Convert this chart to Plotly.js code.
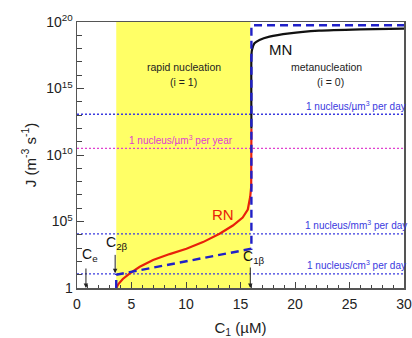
<!DOCTYPE html>
<html>
<head>
<meta charset="utf-8">
<script src="https://cdn.plot.ly/plotly-3.0.1.min.js"></script>
<style>
  html, body { margin: 0; padding: 0; background: #fff; }
  #chart { width: 412px; height: 338px; }
</style>
</head>
<body>
<div id="chart"></div>
<script>
// Rapid nucleation (RN) branch: monomer concentration C1 (µM) vs log10 J
const rnC      = [3.6, 3.8, 4.2, 4.85, 5.76, 6.98, 8.5, 10.04, 11.56, 13.08, 14.3, 15.2, 15.67, 15.89, 15.98, 16.0];
const rnLog10J = [0.0, 0.3, 0.68, 1.1, 1.6, 2.1, 2.55, 2.95, 3.45, 4.08, 4.7, 5.3, 5.9, 6.86, 7.6, 12.0];

// Metanucleation (MN) branch
const mnC      = [16.0, 16.0, 16.05, 16.28, 16.74, 17.66, 19.49, 22.2, 26.0, 30.0];
const mnLog10J = [12.0, 17.4, 17.9, 18.4, 18.65, 18.9, 19.15, 19.35, 19.45, 19.5];

// Simplified (dashed) approximation
const approxC      = [3.6, 3.6, 16.0, 16.0, 30.0];
const approxLog10J = [0.0, 1.0, 2.95, 19.75, 19.75];

// Reference rates (m^-3 s^-1)
const refRates  = [1e18 / 86400, 1e18 / 3.156e7, 1e9 / 86400, 1e6 / 86400];
const refLabels = ['1 nucleus/µm<sup>3</sup> per day', '1 nucleus/µm<sup>3</sup> per year',
                   '1 nucleus/mm<sup>3</sup> per day', '1 nucleus/cm<sup>3</sup> per day'];
const refColors = ['#3a3ae0', '#e040d0', '#3a3ae0', '#3a3ae0'];
const refLabelX = [25.6, 9.5, 25.6, 25.6];

// Characteristic concentrations
const cE = 0.82, c2b = 3.5, c1b = 15.9;
const rapidRange = [3.6, 15.9];

const yTickVals = [1, 1e5, 1e10, 1e15, 1e20];
const yTickText = ['1', '10<sup>5</sup>', '10<sup>10</sup>', '10<sup>15</sup>', '10<sup>20</sup>'];
const xTickVals = [0, 5, 10, 15, 20, 25, 30];

const pow10 = a => a.map(v => Math.pow(10, v));
const decades = [];
for (let k = 0; k <= 20; k++) decades.push(Math.pow(10, k));

const traces = [];
refRates.forEach((r, i) => {
  traces.push({
    x: [0, 30], y: [r, r], mode: 'lines', hoverinfo: 'skip', showlegend: false,
    line: { color: refColors[i], width: 1.3, dash: '2px,2px' }
  });
});
traces.push({
  x: rnC, y: pow10(rnLog10J), mode: 'lines', showlegend: false,
  line: { color: '#e8200a', width: 2.2 }
});
traces.push({
  x: mnC, y: pow10(mnLog10J), mode: 'lines', showlegend: false,
  line: { color: '#111', width: 2.2, shape: 'spline', smoothing: 0.5 }
});
traces.push({
  x: approxC, y: pow10(approxLog10J), mode: 'lines', showlegend: false,
  line: { color: '#2020c8', width: 2.4, dash: '8px,5px' }
});

const txt = (x, y, text, size, color, extra) => Object.assign({
  x, y, text, showarrow: false, xref: 'x', yref: 'y',
  font: { family: 'Arial, Liberation Sans, sans-serif', size, color }
}, extra || {});

const annotations = [
  txt(9.8, 16.6, 'rapid nucleation', 10.5, '#222'),
  txt(9.8, 15.5, '(i = 1)', 10.5, '#222'),
  txt(22.9, 16.6, 'metanucleation', 10.5, '#222'),
  txt(23.3, 15.5, '(i = 0)', 10.5, '#222'),
  txt(18.7, 17.97, 'MN', 15, '#111'),
  txt(13.4, 5.5, 'RN', 15, '#e8200a'),
  txt(1.2, 2.5, 'C<sub>e</sub>', 14, '#111'),
  txt(3.7, 3.4, 'C<sub>2β</sub>', 14, '#111'),
  txt(16.2, 2.35, 'C<sub>1β</sub>', 14, '#111'),
  // arrows pointing at the characteristic concentrations
  { x: cE, y: 0, ax: 0, ay: -21, text: '', showarrow: true, arrowhead: 2, arrowsize: 0.9,
    arrowwidth: 1, arrowcolor: '#222', xref: 'x', yref: 'y' },
  { x: c2b, y: 1.1, ax: 0, ay: -20, text: '', showarrow: true, arrowhead: 2, arrowsize: 0.9,
    arrowwidth: 1, arrowcolor: '#222', xref: 'x', yref: 'y' },
  { x: c1b, y: 0, ax: 0, ay: -22, text: '', showarrow: true, arrowhead: 2, arrowsize: 0.9,
    arrowwidth: 1, arrowcolor: '#222', xref: 'x', yref: 'y' }
];
refRates.forEach((r, i) => {
  annotations.push(txt(refLabelX[i], Math.log10(r) + 0.65, refLabels[i], 10, refColors[i]));
});

const layout = {
  width: 412, height: 338,
  margin: { l: 77, r: 8, t: 22, b: 50 },
  paper_bgcolor: '#fff', plot_bgcolor: '#fff',
  font: { family: 'Arial, Liberation Sans, sans-serif', color: '#222' },
  xaxis: {
    range: [0, 30], tickmode: 'array', tickvals: xTickVals,
    ticks: 'inside', ticklen: 6, tickwidth: 1, tickcolor: '#444',
    minor: { dtick: 1, ticks: 'inside', ticklen: 3, tickcolor: '#444', showgrid: false },
    showline: true, linecolor: '#555', linewidth: 1.5, mirror: true,
    showgrid: false, zeroline: false, ticklabelstandoff: 3,
    tickfont: { size: 14, color: '#222' },
    title: { text: 'C<sub>1</sub> (µM)', font: { size: 15, color: '#222' }, standoff: 12 }
  },
  yaxis: {
    type: 'log', range: [0, 20], tickmode: 'array', tickvals: yTickVals, ticktext: yTickText,
    ticks: 'inside', ticklen: 7, tickwidth: 1, tickcolor: '#444',
    minor: { tickmode: 'array', tickvals: decades, ticks: 'inside', ticklen: 5, tickcolor: '#444', showgrid: false },
    showline: true, linecolor: '#555', linewidth: 1.5, mirror: true,
    showgrid: false, zeroline: false,
    tickfont: { size: 14, color: '#222' },
    title: { text: 'J (m<sup>-3</sup> s<sup>-1</sup>)', font: { size: 15, color: '#222' }, standoff: 6 }
  },
  shapes: [{
    type: 'rect', xref: 'x', yref: 'paper', x0: rapidRange[0], x1: rapidRange[1], y0: 0, y1: 1,
    fillcolor: '#ffff66', line: { width: 0 }, layer: 'below'
  }],
  annotations
};

Plotly.newPlot('chart', traces, layout, { displayModeBar: false, staticPlot: true });
</script>
</body>
</html>
